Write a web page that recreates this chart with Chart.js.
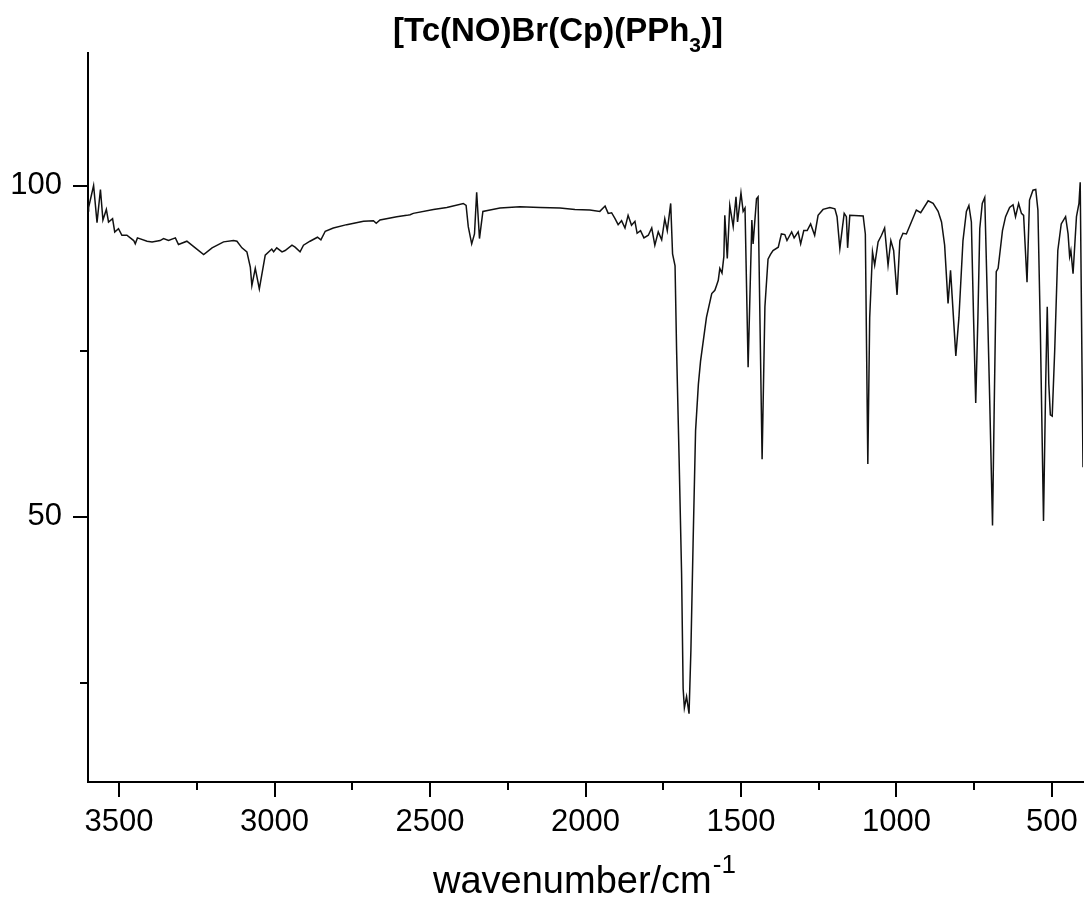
<!DOCTYPE html>
<html>
<head>
<meta charset="utf-8">
<script src="https://cdn.jsdelivr.net/npm/chart.js@4.4.1/dist/chart.umd.min.js"></script>
<style>
  html, body { margin: 0; padding: 0; background: #fff; }
  #wrap { width: 1085px; height: 906px; position: relative; }
</style>
</head>
<body>
<div id="wrap"><canvas id="ir"></canvas></div>
<script>
// IR spectrum
var wavenumbers = [
    3600, 3598, 3582, 3571, 3560, 3552, 3541, 3534, 3521, 3514, 3502, 3491, 3475, 3453, 3448, 3441,
    3410, 3394, 3368, 3357, 3341, 3319, 3309, 3282, 3255, 3228, 3201, 3164, 3132, 3121, 3105, 3089,
    3078, 3073, 3062, 3049, 3030, 3014, 3009, 3003, 2993, 2976, 2966, 2944, 2934, 2918, 2907, 2886,
    2862, 2851, 2837, 2811, 2768, 2714, 2682, 2673, 2661, 2607, 2575, 2564, 2554, 2489, 2446, 2393,
    2384, 2377, 2366, 2357, 2350, 2341, 2330, 2307, 2275, 2211, 2146, 2082, 2034, 1986, 1954, 1937,
    1927, 1916, 1905, 1895, 1884, 1873, 1863, 1852, 1841, 1834, 1823, 1812, 1798, 1787, 1777, 1766,
    1755, 1745, 1737, 1726, 1720, 1712, 1707, 1699, 1691, 1686, 1682, 1675, 1667, 1661, 1654, 1646,
    1637, 1630, 1611, 1594, 1584, 1578, 1573, 1568, 1561, 1555, 1552, 1544, 1536, 1525, 1516, 1511,
    1500, 1493, 1487, 1477, 1465, 1461, 1450, 1445, 1432, 1423, 1413, 1405, 1397, 1380, 1370, 1359,
    1352, 1337, 1329, 1316, 1308, 1298, 1287, 1276, 1263, 1252, 1236, 1214, 1198, 1191, 1182, 1175,
    1168, 1161, 1157, 1150, 1107, 1100, 1096, 1092, 1086, 1077, 1070, 1059, 1048, 1038, 1027, 1018,
    1009, 998, 989, 979, 968, 952, 936, 922, 898, 882, 866, 855, 845, 834, 826, 809,
    799, 786, 775, 767, 759, 752, 745, 738, 732, 724, 716, 709, 700, 691, 686, 679,
    673, 659, 649, 636, 625, 617, 607, 598, 591, 580, 572, 561, 552, 545, 537, 527,
    520, 515, 510, 505, 499, 491, 481, 470, 456, 448, 443, 439, 432, 421, 413, 409, 400
];
var transmittance = [
    97.0, 96.7, 100.0, 94.4, 99.4, 94.8, 96.4, 94.5, 95.0, 93.0, 93.5, 92.5, 92.5, 91.7, 91.2, 92.1,
    91.6, 91.5, 91.7, 92.0, 91.7, 92.1, 91.1, 91.6, 90.6, 89.6, 90.6, 91.5, 91.7, 91.6, 90.6, 90.0,
    87.7, 84.9, 87.5, 84.4, 89.5, 90.2, 90.4, 90.0, 90.6, 90.0, 90.2, 91.0, 90.7, 90.0, 91.0, 91.6,
    92.2, 91.8, 93.1, 93.6, 94.1, 94.6, 94.7, 94.3, 94.8, 95.3, 95.5, 95.6, 95.8, 96.4, 96.7, 97.3,
    97.0, 93.8, 91.2, 92.7, 99.0, 92.0, 96.1, 96.3, 96.6, 96.8, 96.7, 96.6, 96.4, 96.3, 96.1, 96.9,
    95.8, 95.9, 95.0, 94.1, 94.7, 93.6, 95.5, 94.0, 94.6, 92.8, 93.2, 92.1, 92.5, 93.6, 91.0, 93.0,
    91.8, 95.0, 93.2, 97.3, 89.7, 87.9, 75.1, 58.9, 41.5, 24.1, 21.2, 22.9, 20.3, 29.9, 46.0, 63.0,
    70.0, 73.5, 80.1, 83.7, 84.2, 85.0, 85.7, 87.5, 86.8, 89.3, 95.5, 89.0, 97.0, 93.8, 98.3, 94.5,
    98.9, 96.1, 96.6, 72.6, 94.8, 91.2, 98.0, 98.3, 58.7, 81.7, 88.9, 89.6, 90.2, 90.7, 92.7, 92.6,
    91.7, 93.0, 92.1, 93.0, 91.2, 93.2, 93.2, 94.2, 92.5, 95.5, 96.4, 96.7, 96.5, 95.3, 90.5, 93.2,
    95.8, 95.3, 90.6, 95.5, 95.4, 92.7, 75.1, 58.0, 80.1, 90.0, 88.0, 91.5, 92.5, 93.6, 88.0, 91.7,
    90.2, 83.5, 91.7, 92.8, 92.7, 94.5, 96.3, 95.9, 97.7, 97.3, 96.1, 94.5, 91.0, 82.2, 87.2, 74.3,
    80.1, 91.7, 96.1, 97.0, 94.5, 80.1, 67.2, 80.1, 93.5, 97.3, 98.2, 85.2, 67.6, 48.7, 65.1, 87.0,
    87.5, 93.2, 95.3, 96.7, 97.1, 95.3, 97.3, 95.8, 95.5, 85.4, 97.8, 99.3, 99.4, 96.3, 77.7, 49.4,
    70.1, 81.7, 70.1, 65.4, 65.2, 75.1, 90.2, 94.2, 95.3, 92.7, 89.3, 90.2, 86.7, 95.3, 97.3, 100.5, 57.5
];
var xTicks = [3500, 3250, 3000, 2750, 2500, 2250, 2000, 1750, 1500, 1250, 1000, 750, 500];
var yTicks = [25, 50, 75, 100];

var fontFamily = "'Liberation Sans', Arial, Helvetica, sans-serif";

var points = wavenumbers.map(function(w, i) {
    return { x: w, y: transmittance[i] };
});

// tick marks: long on labelled values, short in between
var tickMarks = {
    id: 'tickMarks',
    afterDraw: function(chart) {
        var ctx = chart.ctx;
        var xs = chart.scales.x, ys = chart.scales.y;
        ctx.save();
        ctx.strokeStyle = '#000';
        ctx.lineWidth = 2;
        ctx.beginPath();
        xs.ticks.forEach(function(t) {
            var px = Math.round(xs.getPixelForValue(t.value));
            var len = t.value % 500 === 0 ? 15 : 8;
            ctx.moveTo(px, xs.top);
            ctx.lineTo(px, xs.top + len);
        });
        ys.ticks.forEach(function(t) {
            var py = Math.round(ys.getPixelForValue(t.value));
            var len = t.value % 50 === 0 ? 15 : 8;
            ctx.moveTo(ys.right, py);
            ctx.lineTo(ys.right - len, py);
        });
        ctx.stroke();
        ctx.restore();
    }
};

// title with subscript and axis label with superscript
var labels = {
    id: 'labels',
    afterDraw: function(chart) {
        var ctx = chart.ctx;
        ctx.save();
        ctx.fillStyle = '#000';
        ctx.textBaseline = 'alphabetic';
        ctx.textAlign = 'left';

        var x = 393, y = 41;
        ctx.font = 'bold 33px ' + fontFamily;
        var a = '[Tc(NO)Br(Cp)(PPh';
        ctx.fillText(a, x, y);
        x += ctx.measureText(a).width;
        ctx.font = 'bold 21px ' + fontFamily;
        ctx.fillText('3', x, y + 11);
        x += ctx.measureText('3').width;
        ctx.font = 'bold 33px ' + fontFamily;
        ctx.fillText(')]', x, y);

        x = 433; y = 893;
        ctx.font = '38px ' + fontFamily;
        var b = 'wavenumber/cm';
        ctx.fillText(b, x, y);
        x += ctx.measureText(b).width + 1;
        ctx.font = '26px ' + fontFamily;
        ctx.fillText('-1', x, y - 20);
        ctx.restore();
    }
};

var chart = new Chart(document.getElementById('ir'), {
    type: 'line',
    data: {
        datasets: [{
            data: points,
            borderColor: '#111',
            borderWidth: 1.5,
            pointRadius: 0,
            tension: 0,
            fill: false
        }]
    },
    options: {
        responsive: true,
        maintainAspectRatio: false,
        animation: false,
        layout: { padding: { top: 53, right: 2, left: 0, bottom: 0 } },
        plugins: {
            legend: { display: false },
            tooltip: { enabled: false },
            title: { display: false }
        },
        scales: {
            x: {
                type: 'linear',
                reverse: true,
                min: 400,
                max: 3600,
                afterBuildTicks: function(scale) {
                    scale.ticks = xTicks.map(function(v) { return { value: v }; });
                },
                afterFit: function(scale) { scale.height = 124; },
                ticks: {
                    autoSkip: false,
                    maxRotation: 0,
                    padding: 7,
                    color: '#000',
                    font: { size: 31, family: fontFamily },
                    callback: function(v) { return v % 500 === 0 ? String(v) : ''; }
                },
                grid: { display: true, drawOnChartArea: false, tickLength: 15, tickColor: 'rgba(0,0,0,0)' },
                border: { display: true, color: '#000', width: 2 }
            },
            y: {
                min: 10,
                max: 120,
                afterBuildTicks: function(scale) {
                    scale.ticks = yTicks.map(function(v) { return { value: v }; });
                },
                afterFit: function(scale) { scale.width = 88; },
                ticks: {
                    padding: 11,
                    color: '#000',
                    font: { size: 31, family: fontFamily },
                    callback: function(v) { return v % 50 === 0 ? String(v) : ''; }
                },
                grid: { display: true, drawOnChartArea: false, tickLength: 15, tickColor: 'rgba(0,0,0,0)' },
                border: { display: true, color: '#000', width: 2 }
            }
        }
    },
    plugins: [tickMarks, labels]
});
</script>
</body>
</html>
